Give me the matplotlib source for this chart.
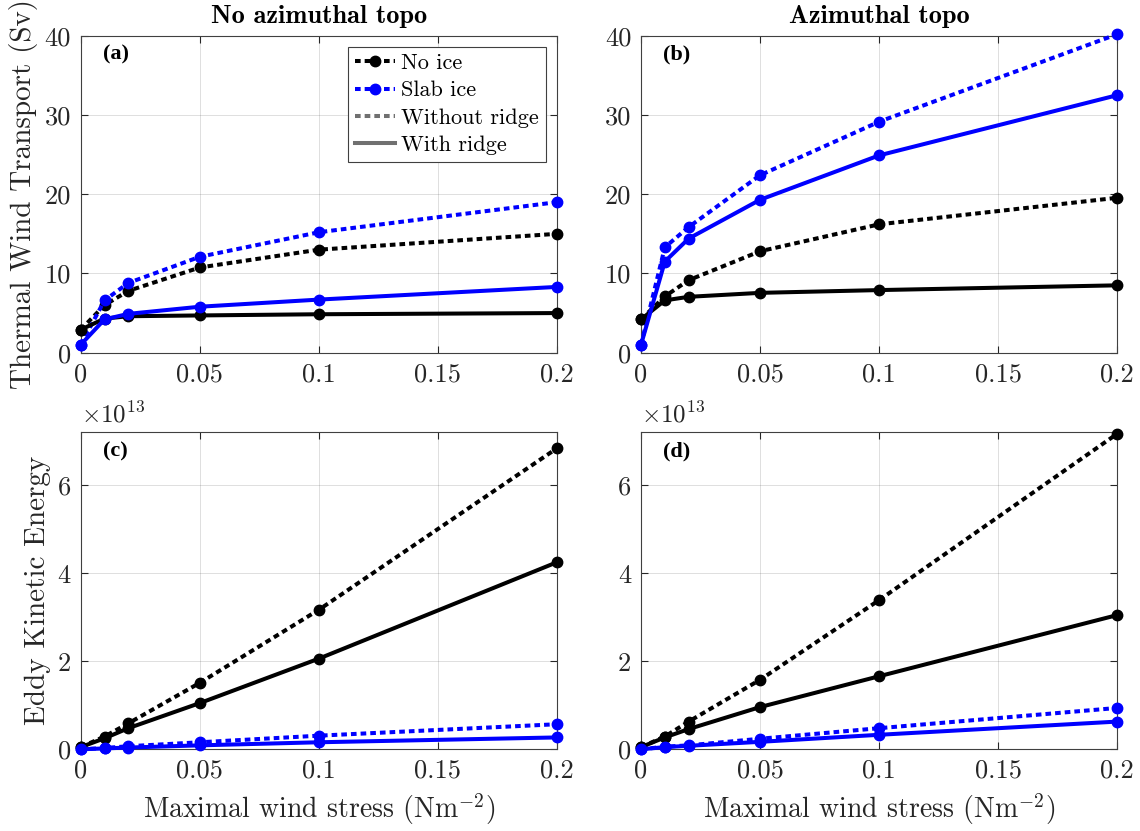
import matplotlib
matplotlib.use('Agg')
import matplotlib.pyplot as plt
from matplotlib.lines import Line2D

plt.rcParams['font.family'] = 'serif'
plt.rcParams['font.serif'] = ['cmr10']
plt.rcParams['mathtext.fontset'] = 'cm'
plt.rcParams['axes.formatter.use_mathtext'] = True

# wind stress (Nm^-2)
wind_stress = [0, 0.01, 0.02, 0.05, 0.1, 0.2]

# thermal wind transport (Sv)
twt_noazi_noice_noridge = [2.9, 6.0, 7.8, 10.75, 13.0, 15.0]
twt_noazi_slab_noridge = [1.0, 6.6, 8.8, 12.1, 15.2, 19.0]
twt_noazi_noice_ridge = [2.9, 4.3, 4.6, 4.7, 4.85, 5.0]
twt_noazi_slab_ridge = [1.0, 4.2, 4.9, 5.8, 6.7, 8.3]

twt_azi_noice_noridge = [4.2, 7.1, 9.15, 12.8, 16.2, 19.55]
twt_azi_slab_noridge = [1.0, 13.3, 15.85, 22.4, 29.15, 40.2]
twt_azi_noice_ridge = [4.2, 6.6, 7.05, 7.55, 7.9, 8.5]
twt_azi_slab_ridge = [1.0, 11.5, 14.4, 19.3, 24.9, 32.5]

# eddy kinetic energy (x 1e13)
eke_noazi_noice_noridge = [0.05, 0.29, 0.59, 1.51, 3.17, 6.84]
eke_noazi_slab_noridge = [0.0, 0.03, 0.07, 0.16, 0.31, 0.57]
eke_noazi_noice_ridge = [0.05, 0.25, 0.48, 1.05, 2.06, 4.25]
eke_noazi_slab_ridge = [0.0, 0.02, 0.04, 0.09, 0.16, 0.27]

eke_azi_noice_noridge = [0.05, 0.29, 0.63, 1.58, 3.39, 7.17]
eke_azi_slab_noridge = [0.0, 0.06, 0.09, 0.24, 0.48, 0.94]
eke_azi_noice_ridge = [0.05, 0.27, 0.46, 0.96, 1.66, 3.05]
eke_azi_slab_ridge = [0.0, 0.05, 0.08, 0.17, 0.33, 0.63]

x_ticks = [0, 0.05, 0.1, 0.15, 0.2]
x_ticklabels = ['0', '0.05', '0.1', '0.15', '0.2']

DOT = (0, (1.4, 1.0))
LW = 2.9
MS = 7.5
AXCOL = '#262626'

fig = plt.figure(figsize=(11.4, 8.31), dpi=100)
fig.patch.set_facecolor('white')

lefts = [0.0708, 0.5623]
width = 0.4178
bottoms = [0.5756, 0.0983]
height = 0.3814

panels = [
    (0, 0, (twt_noazi_noice_noridge, twt_noazi_slab_noridge, twt_noazi_noice_ridge, twt_noazi_slab_ridge), '(a)'),
    (0, 1, (twt_azi_noice_noridge, twt_azi_slab_noridge, twt_azi_noice_ridge, twt_azi_slab_ridge), '(b)'),
    (1, 0, (eke_noazi_noice_noridge, eke_noazi_slab_noridge, eke_noazi_noice_ridge, eke_noazi_slab_ridge), '(c)'),
    (1, 1, (eke_azi_noice_noridge, eke_azi_slab_noridge, eke_azi_noice_ridge, eke_azi_slab_ridge), '(d)'),
]

axes = {}
for row, col, series, tag in panels:
    ax = fig.add_axes([lefts[col], bottoms[row], width, height])
    axes[(row, col)] = ax
    noice_nr, slab_nr, noice_r, slab_r = series

    ax.plot(wind_stress, noice_nr, color='black', ls=DOT, lw=LW, marker='o', ms=MS, clip_on=False, zorder=3)
    ax.plot(wind_stress, slab_nr, color='blue', ls=DOT, lw=LW, marker='o', ms=MS, clip_on=False, zorder=3)
    ax.plot(wind_stress, noice_r, color='black', ls='-', lw=LW, marker='o', ms=MS, clip_on=False, zorder=3)
    ax.plot(wind_stress, slab_r, color='blue', ls='-', lw=LW, marker='o', ms=MS, clip_on=False, zorder=3)

    ax.set_xlim(0, 0.2)
    ax.set_xticks(x_ticks)
    ax.set_xticklabels(x_ticklabels)
    if row == 0:
        ax.set_ylim(0, 40)
        ax.set_yticks([0, 10, 20, 30, 40])
        ax.set_yticklabels(['0', '10', '20', '30', '40'])
    else:
        ax.set_ylim(0, 7.2)
        ax.set_yticks([0, 2, 4, 6])
        ax.set_yticklabels(['0', '2', '4', '6'])
        ax.text(0.0, 1.015, r'$\times 10^{13}$', transform=ax.transAxes, fontsize=18,
                color=AXCOL, ha='left', va='bottom')
        ax.set_xlabel(r'Maximal wind stress (Nm$^{-2}$)', fontsize=20, color=AXCOL, labelpad=6)

    ax.grid(True, color=AXCOL, alpha=0.15, lw=0.7)
    ax.set_axisbelow(True)
    ax.tick_params(direction='in', length=5, width=0.8, top=True, right=True,
                   labelsize=19, colors=AXCOL, pad=7)
    for s in ax.spines.values():
        s.set_color('#404040')
        s.set_linewidth(0.8)

    ax.text(0.047, 0.94, tag, transform=ax.transAxes, fontsize=16, fontweight='bold',
            family='Liberation Serif', ha='left', va='center', color='black')

axes[(0, 0)].set_title('No azimuthal topo', fontsize=19, family='cmb10', pad=9)
axes[(0, 1)].set_title('Azimuthal topo', fontsize=19, family='cmb10', pad=9)
axes[(0, 0)].set_ylabel('Thermal Wind Transport (Sv)', fontsize=21, color=AXCOL, labelpad=5)
axes[(1, 0)].set_ylabel('Eddy Kinetic Energy', fontsize=21, color=AXCOL, labelpad=5)

handles = [
    Line2D([], [], color='black', ls=DOT, lw=LW, marker='o', ms=MS),
    Line2D([], [], color='blue', ls=DOT, lw=LW, marker='o', ms=MS),
    Line2D([], [], color='#707070', ls=DOT, lw=LW),
    Line2D([], [], color='#707070', ls='-', lw=LW),
]
labels = ['No ice', 'Slab ice', 'Without ridge', 'With ridge']
leg = axes[(0, 0)].legend(handles, labels, loc='upper right', fontsize=16, frameon=True,
                          fancybox=False, edgecolor='#404040', framealpha=1,
                          handlelength=1.8, handletextpad=0.3, labelspacing=0.35,
                          borderpad=0.3, borderaxespad=0.5)
leg.get_frame().set_linewidth(0.8)

fig.savefig('out.png', dpi=100, facecolor='white')
